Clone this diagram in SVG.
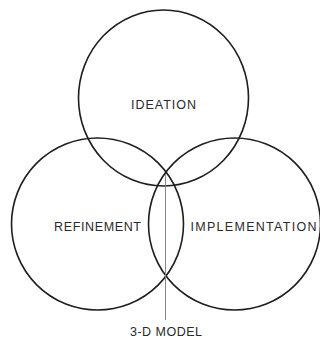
<svg xmlns="http://www.w3.org/2000/svg" width="320" height="339" viewBox="0 0 320 339">
<style>
.c{fill:none;stroke:#1e1e1e;stroke-width:1.6}
.t{font-family:"Liberation Sans",Arial,sans-serif;font-size:12.5px;fill:#2a2a2a;text-anchor:middle}
</style>
<rect width="320" height="339" fill="#fff"/>
<g id="ideation"><ellipse class="c" cx="163.5" cy="98" rx="85" ry="88"/><text class="t" x="163.5" y="109" textLength="65" lengthAdjust="spacing">IDEATION</text></g>
<g id="refinement"><circle class="c" cx="97.5" cy="224" r="86"/><text class="t" x="97.5" y="230.5" textLength="87" lengthAdjust="spacing">REFINEMENT</text></g>
<g id="implementation"><circle class="c" cx="234.5" cy="224" r="86"/><text class="t" x="253.5" y="230.5" textLength="126" lengthAdjust="spacing">IMPLEMENTATION</text></g>
<g id="connectors"><line x1="165.5" y1="174" x2="165.5" y2="320" stroke="#888" stroke-width="1"/></g>
<g id="model"><text class="t" x="166" y="336" textLength="72" lengthAdjust="spacing">3-D MODEL</text></g>
</svg>
